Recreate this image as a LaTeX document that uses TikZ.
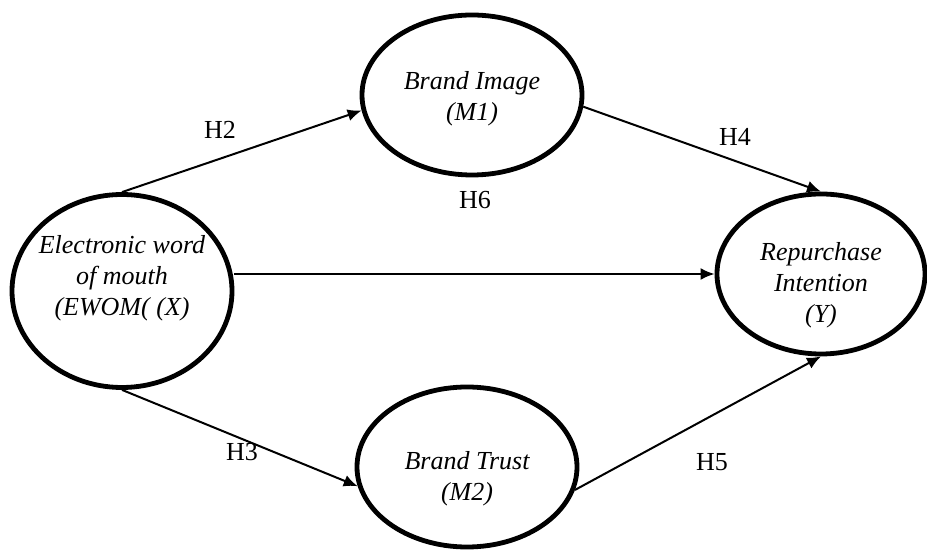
\documentclass[tikz,border=0pt]{standalone}
\usepackage{fontspec}
\setmainfont{Liberation Serif}
\usetikzlibrary{shapes.geometric,arrows.meta}

\begin{document}
\begin{tikzpicture}[x=0.5pt, y=-0.5pt,
        construct/.style={ellipse, draw, line width=2.4pt, inner sep=0pt},
        ctext/.style={align=center, font=\fontsize{13}{15.5}\selectfont\itshape},
        hyp/.style={font=\fontsize{13}{15.5}\selectfont},
        path/.style={line width=1pt, -{Latex[length=7pt, width=6pt]}}]

        \useasboundingbox (0,0) rectangle (927,550);

        \node[construct, minimum width=110pt, minimum height=96.5pt] (ewom) at (122,291) {};
        \node[ctext] (ewomtext) at (122,278) {Electronic word\\of mouth\\(EWOM( (X)};

        \node[construct, minimum width=110pt, minimum height=80pt] (image) at (472,95) {};
        \node[ctext] (imagetext) at (472,99) {Brand Image\\(M1)};

        \node[construct, minimum width=110pt, minimum height=80pt] (trust) at (467,467) {};
        \node[ctext] (trusttext) at (467,479) {Brand Trust\\(M2)};

        \node[construct, minimum width=104pt, minimum height=80pt] (rep) at (821,274) {};
        \node[ctext] (reptext) at (821,285) {Repurchase\\Intention\\(Y)};

        % hypothesised paths
        \draw[path] (ewom.north) -- (image.188);
        \draw[path] (image.-6) -- (rep.north);
        \draw[path] (ewom.east |- rep.west) -- (rep.west);
        \draw[path] (ewom.south) -- (trust.190);
        \draw[path] (trust.-12) -- (rep.south);

        \node[hyp] (h2) at (220,130) {H2};
        \node[hyp] (h4) at (735,137) {H4};
        \node[hyp] (h6) at (475,200) {H6};
        \node[hyp] (h3) at (242,452) {H3};
        \node[hyp] (h5) at (712,462) {H5};
\end{tikzpicture}
\end{document}
